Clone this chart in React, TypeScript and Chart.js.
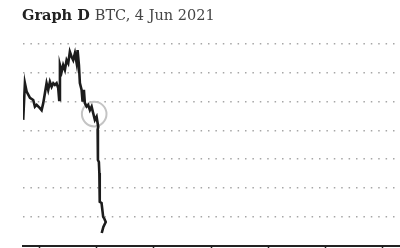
import React, { useEffect, useRef } from "react";
import { Chart, registerables } from "chart.js";

Chart.register(...registerables);

const TITLE_BOLD = "Graph D";
const TITLE_REST = "BTC, 4 Jun 2021";

// time in minutes (ticks every 60 min), price level in grid units
const priceMinutes = [
  -16.8, -15.0, -13.2, -9.7, -6.3, -4.5, -2.7, 0.7, 2.5, 4.2, 6.0, 7.7, 9.4, 11.2, 13.0, 14.7,
  16.4, 18.2, 19.9, 20.9, 21.7, 23.5, 25.1, 26.9, 28.7, 30.4, 32.1, 33.9, 35.6, 37.4, 39.2, 40.2,
  41.6, 42.6, 44.4, 45.4, 46.8, 47.8, 49.6, 51.3, 53.1, 54.9, 56.5, 58.3, 60.1, 61.8, 61.2, 61.5,
  62.5, 63.0, 63.2, 63.6, 65.3, 67.0, 68.0, 69.7, 67.2, 65.5,
];
const priceLevels = [
  4.36, 5.63, 5.34, 5.12, 5.05, 4.82, 4.88, 4.77, 4.70, 4.94, 5.29, 5.63, 5.40, 5.68, 5.51, 5.63,
  5.57, 5.63, 5.46, 5.05, 6.26, 6.03, 6.26, 6.09, 6.43, 6.32, 6.72, 6.55, 6.43, 6.67, 6.33, 6.78,
  6.26, 5.64, 5.40, 4.99, 5.40, 4.94, 4.82, 4.88, 4.70, 4.82, 4.60, 4.36, 4.47, 4.12, 4.01, 2.97,
  2.90, 2.52, 2.10, 1.52, 1.48, 1.00, 0.95, 0.82, 0.65, 0.44,
];

const circleMinute = [57.6];
const circleLevel = [4.56];

const xTickValues = [0, 60, 120, 180, 240, 300, 360];
const yGridValues = [0, 1, 2, 3, 4, 5, 6, 7];

const titlePlugin = {
  id: "twoFontTitle",
  afterDraw(chart: any) {
    const ctx = chart.ctx;
    ctx.save();
    ctx.textBaseline = "alphabetic";
    ctx.font = 'bold 14.5px "DejaVu Serif"';
    ctx.fillStyle = "#222";
    ctx.fillText(TITLE_BOLD, 22, 19.5);
    const w = ctx.measureText(TITLE_BOLD).width;
    ctx.font = '14.5px "DejaVu Serif"';
    ctx.fillStyle = "#444";
    ctx.fillText(TITLE_REST, 22 + w + 5, 19.5);
    ctx.restore();
  },
};

export default function App() {
  const ref = useRef<HTMLCanvasElement | null>(null);

  useEffect(() => {
    if (!ref.current) return;
    const chart = new Chart(ref.current, {
      type: "line",
      data: {
        datasets: [
          {
            data: priceMinutes.map((m, i) => ({ x: m, y: priceLevels[i] })),
            borderColor: "#1c1c1c",
            borderWidth: 2.6,
            pointRadius: 0,
            tension: 0,
            order: 0,
          },
          {
            data: circleMinute.map((m, i) => ({ x: m, y: circleLevel[i] })),
            showLine: false,
            pointRadius: 12.3,
            pointBorderColor: "#c4c4c4",
            pointBorderWidth: 2,
            pointBackgroundColor: "rgba(0,0,0,0)",
            order: 1,
          },
        ],
      },
      options: {
        responsive: false,
        animation: false,
        devicePixelRatio: 1,
        layout: { autoPadding: false, padding: { top: 43.7, left: 23, right: 0, bottom: 0 } },
        plugins: { legend: { display: false }, tooltip: { enabled: false }, title: { display: false } },
        scales: {
          x: {
            type: "linear",
            min: -17,
            max: 378,
            afterBuildTicks: (s: any) => {
              s.ticks = xTickValues.map((v) => ({ value: v }));
            },
            afterFit: (s: any) => {
              s.height = 24.3;
            },
            ticks: { display: false },
            grid: {
              drawOnChartArea: false,
              drawTicks: true,
              tickLength: 12,
              tickColor: "#222",
              tickWidth: 1.5,
            },
            border: { display: true, color: "#222", width: 2 },
          },
          y: {
            type: "linear",
            min: 0,
            max: 7,
            afterBuildTicks: (s: any) => {
              s.ticks = yGridValues.map((v) => ({ value: v }));
            },
            afterFit: (s: any) => {
              s.width = 0;
            },
            ticks: { display: false },
            grid: {
              drawTicks: false,
              lineWidth: 1.5,
              color: (c: any) => (c.tick && c.tick.value === 0 ? "rgba(0,0,0,0)" : "#a6a6a6"),
            },
            border: { display: false, dash: [1.5, 5.9] },
          },
        },
      },
      plugins: [titlePlugin],
    });
    return () => chart.destroy();
  }, []);

  return (
    <div style={{ position: "fixed", left: 0, top: 0, width: 400, height: 270, background: "#fff" }}>
      <canvas ref={ref} width={400} height={270} style={{ display: "block" }} />
    </div>
  );
}
